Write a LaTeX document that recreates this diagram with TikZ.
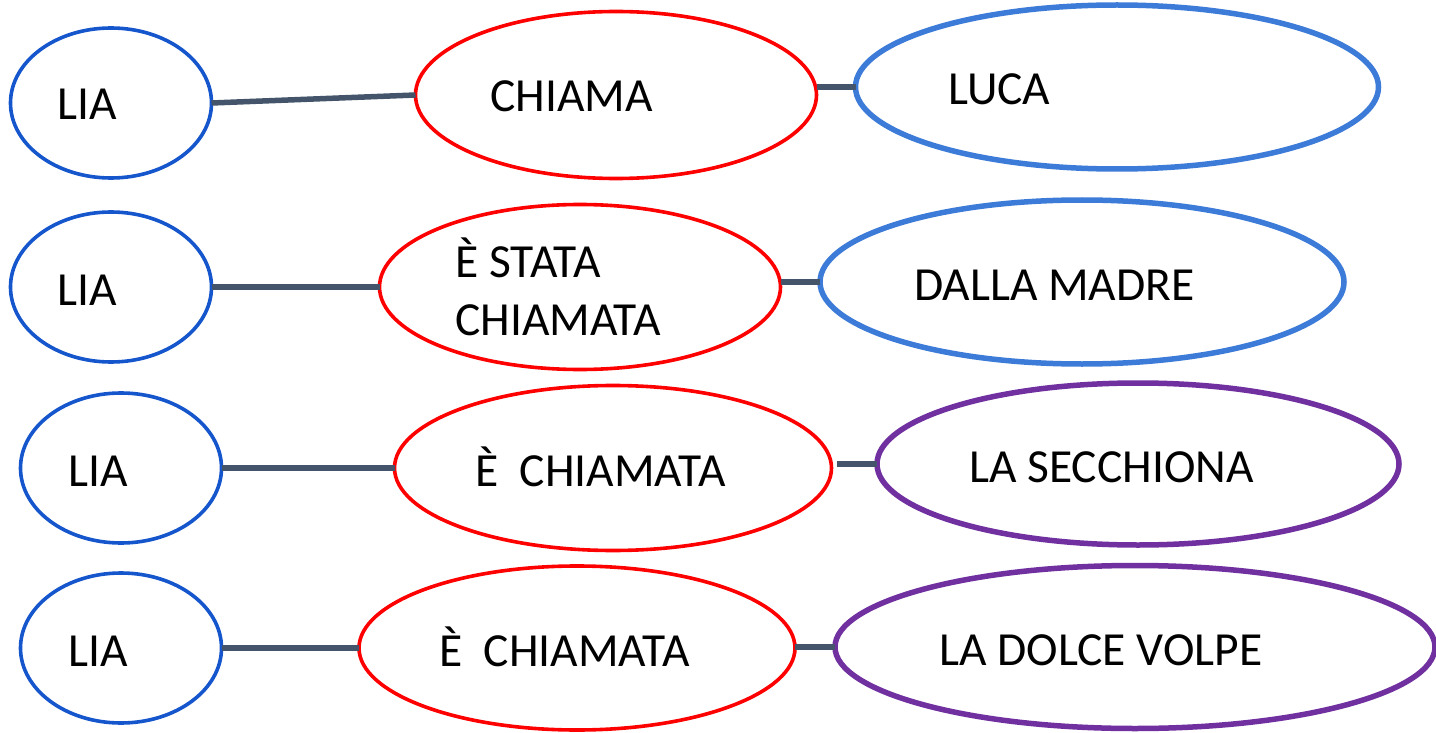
\documentclass[tikz,border=0pt]{standalone}
\usepackage{fontspec}
\setmainfont{Carlito}
\usetikzlibrary{shapes.geometric}
\definecolor{liablue}{HTML}{1556CC}
\definecolor{objblue}{HTML}{3C7BD8}
\definecolor{vred}{HTML}{FF0000}
\definecolor{vpurple}{HTML}{7030A0}
\definecolor{conncol}{HTML}{44546A}
\begin{document}
\begin{tikzpicture}[x=1pt,y=-1pt,
  ell/.style={ellipse, draw, inner sep=0pt, outer sep=0pt},
  subj/.style={ell, draw=liablue, line width=3.6pt, minimum width=201pt, minimum height=150pt},
  verb/.style={ell, draw=vred, line width=3.6pt},
  objb/.style={ell, draw=objblue, line width=5.5pt},
  objp/.style={ell, draw=vpurple, line width=5.5pt},
  txt/.style={anchor=base west, inner sep=0pt, font=\fontsize{47.5}{58}\selectfont},
  conn/.style={draw=conncol, line width=5.5pt}]
\useasboundingbox (0,0) rectangle (1436,733);
% row 1
\node[subj] (lia1) at (111,103) {};
\node[verb, minimum width=401pt, minimum height=167pt] (chiama) at (616,95) {};
\node[objb, minimum width=523pt, minimum height=164pt] (luca) at (1117,87) {};
% row 2
\node[subj] (lia2) at (111,287) {};
\node[verb, minimum width=401pt, minimum height=165pt] (esc) at (580,287) {};
\node[objb, minimum width=524pt, minimum height=164pt] (madre) at (1082,282) {};
% row 3
\node[subj] (lia3) at (121,468) {};
\node[verb, minimum width=437pt, minimum height=165pt] (ec3) at (613,468) {};
\node[objp, minimum width=522pt, minimum height=162pt] (sec) at (1138,464) {};
% row 4
\node[subj] (lia4) at (121,648) {};
\node[verb, minimum width=436pt, minimum height=164pt] (ec4) at (577,648) {};
\node[objp, minimum width=600pt, minimum height=163pt] (volpe) at (1135,647) {};
% connectors
\draw[conn] (lia1.east) -- (chiama.west);
\draw[conn] (chiama.east |- luca.west) -- (luca.west);
\draw[conn] (lia2.east) -- (esc.west);
\draw[conn] (esc.east |- madre.west) -- (madre.west);
\draw[conn] (lia3.east) -- (ec3.west);
\draw[conn, shorten <=5pt] (ec3.east |- sec.west) -- (sec.west);
\draw[conn] (lia4.east) -- (ec4.west);
\draw[conn] (ec4.east |- volpe.west) -- (volpe.west);
% texts
\node[txt] (tlia1) at (57,120) {LIA};
\node[txt] (tchiama) at (490,112) {CHIAMA};
\node[txt] (tluca) at (948,105) {LUCA};
\node[txt] (tlia2) at (57,305) {LIA};
\node[txt] (tesca) at (455,277) {È STATA};
\node[txt] (tescb) at (455,335) {CHIAMATA};
\node[txt] (tmadre) at (914,300) {DALLA MADRE};
\node[txt] (tlia3) at (68,486) {LIA};
\node[txt] (tec3) at (475,486) {È~~CHIAMATA};
\node[txt] (tsec) at (969,482) {LA SECCHIONA};
\node[txt] (tlia4) at (68,666) {LIA};
\node[txt] (tec4) at (439,666) {È~~CHIAMATA};
\node[txt] (tvolpe) at (939,665) {LA DOLCE VOLPE};
\end{tikzpicture}
\end{document}
